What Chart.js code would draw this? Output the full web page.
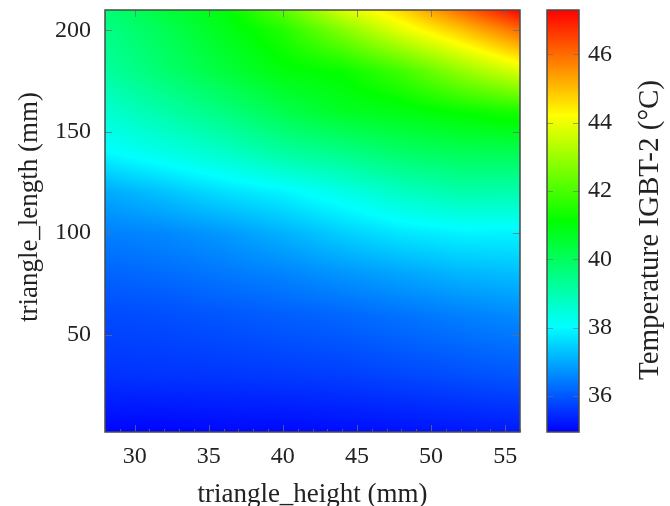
<!DOCTYPE html>
<html>
<head>
<meta charset="utf-8">
<script src="https://cdn.jsdelivr.net/npm/chart.js@4.4.1/dist/chart.umd.min.js"></script>
<style>
  body { margin: 0; background: #fff; }
  #wrap { position: relative; width: 670px; height: 506px; }
  canvas { position: absolute; top: 0; }
  #heatmap { left: 0; }
  #colorbar { left: 540px; }
</style>
</head>
<body>
<div id="wrap">
  <canvas id="heatmap" width="540" height="506"></canvas>
  <canvas id="colorbar" width="130" height="506"></canvas>
</div>
<script>
// Grid
const heights = [28, 32, 36, 40, 44, 48, 52, 56];                    // triangle_height (mm)
const lengths = [2, 30, 60, 80, 100, 120, 140, 160, 180, 200, 210];  // triangle_length (mm)
// Temperature IGBT-2 (°C), one row per length, columns follow heights
const temps = [
  [35.00, 35.00, 35.05, 35.05, 35.10, 35.15, 35.20, 35.25], // 2
  [35.55, 35.58, 35.60, 35.65, 35.70, 35.80, 35.90, 36.00], // 30
  [35.85, 35.90, 36.00, 36.10, 36.20, 36.35, 36.50, 36.65], // 60
  [36.15, 36.25, 36.40, 36.55, 36.75, 36.95, 37.15, 37.25], // 80
  [36.50, 36.60, 36.80, 37.10, 37.45, 37.75, 37.90, 37.90], // 100
  [37.00, 37.30, 37.65, 37.90, 38.30, 38.75, 39.05, 39.00], // 120
  [38.00, 38.35, 38.70, 39.20, 39.50, 39.90, 40.10, 40.15], // 140
  [38.60, 39.10, 39.60, 40.20, 40.70, 40.90, 41.20, 41.45], // 160
  [39.20, 39.80, 40.40, 41.00, 41.20, 41.90, 42.90, 43.80], // 180
  [39.50, 40.10, 40.80, 41.50, 42.70, 43.90, 44.90, 46.00], // 200
  [39.70, 40.40, 41.00, 42.20, 43.70, 44.70, 46.00, 47.30]  // 210
];
const xTicks = [30, 35, 40, 45, 50, 55];
const yTicks = [50, 100, 150, 200];
const colorTicks = [36, 38, 40, 42, 44, 46];
const colorRange = [34.95, 47.3];
const colormap = [[0, 0, 255], [0, 255, 255], [0, 255, 0], [255, 255, 0], [255, 0, 0]];

const serif = 'Liberation Serif';
const textColor = '#222';

function colorAt(v) {
  let t = (v - colorRange[0]) / (colorRange[1] - colorRange[0]);
  t = Math.min(1, Math.max(0, t)) * (colormap.length - 1);
  const i = Math.min(colormap.length - 2, Math.floor(t));
  const f = t - i;
  const a = colormap[i], b = colormap[i + 1];
  return [a[0] + (b[0] - a[0]) * f, a[1] + (b[1] - a[1]) * f, a[2] + (b[2] - a[2]) * f];
}

function findCell(arr, v) {
  let i = 0;
  while (i < arr.length - 2 && v > arr[i + 1]) i++;
  const f = Math.min(1, Math.max(0, (v - arr[i]) / (arr[i + 1] - arr[i])));
  return [i, f];
}

// bilinear shading between grid values (like shader=interp)
function tempAt(h, l) {
  const [i, fx] = findCell(heights, h);
  const [j, fy] = findCell(lengths, l);
  const a = temps[j][i], b = temps[j][i + 1], c = temps[j + 1][i], d = temps[j + 1][i + 1];
  return (a * (1 - fx) + b * fx) * (1 - fy) + (c * (1 - fx) + d * fx) * fy;
}

const points = [];
lengths.forEach((l, j) => heights.forEach((h, i) => points.push({ x: h, y: l, v: temps[j][i] })));

// stop Chart.js from reserving room for half tick labels
const noEdgePad = s => { s.paddingTop = 0; s.paddingBottom = 0; s.paddingLeft = 0; s.paddingRight = 0; };

function verticalText(ctx, text, x, y, size) {
  ctx.save();
  ctx.translate(x, y);
  ctx.rotate(-Math.PI / 2);
  ctx.fillStyle = textColor;
  ctx.font = size + 'px "' + serif + '"';
  ctx.textAlign = 'center';
  ctx.textBaseline = 'middle';
  ctx.fillText(text, 0, 0);
  ctx.restore();
}

const shading = {
  id: 'shading',
  beforeDatasetsDraw(chart) {
    const { ctx, chartArea: a, scales: { x, y } } = chart;
    const w = Math.round(a.right - a.left), h = Math.round(a.bottom - a.top);
    const off = document.createElement('canvas');
    off.width = w; off.height = h;
    const octx = off.getContext('2d');
    const img = octx.createImageData(w, h);
    const xv = [];
    for (let px = 0; px < w; px++) xv.push(x.getValueForPixel(a.left + px + 0.5));
    for (let py = 0; py < h; py++) {
      const yv = y.getValueForPixel(a.top + py + 0.5);
      for (let px = 0; px < w; px++) {
        const c = colorAt(tempAt(xv[px], yv));
        const k = (py * w + px) * 4;
        img.data[k] = c[0]; img.data[k + 1] = c[1]; img.data[k + 2] = c[2]; img.data[k + 3] = 255;
      }
    }
    octx.putImageData(img, 0, 0);
    ctx.drawImage(off, a.left, a.top);
  }
};

const frameTicks = {
  id: 'frameTicks',
  afterDatasetsDraw(chart) {
    const { ctx, chartArea: a, scales: { x, y } } = chart;
    ctx.save();
    ctx.strokeStyle = 'rgba(110,110,110,0.75)';
    ctx.lineWidth = 1;
    ctx.beginPath();
    xTicks.forEach(v => {
      const p = Math.round(x.getPixelForValue(v)) + 0.5;
      ctx.moveTo(p, a.bottom); ctx.lineTo(p, a.bottom - 7);
      ctx.moveTo(p, a.top); ctx.lineTo(p, a.top + 7);
    });
    for (let v = 28; v <= 56; v++) {
      if (v % 5 === 0) continue;
      const p = Math.round(x.getPixelForValue(v)) + 0.5;
      ctx.moveTo(p, a.bottom); ctx.lineTo(p, a.bottom - 3);
    }
    yTicks.forEach(v => {
      const p = Math.round(y.getPixelForValue(v)) + 0.5;
      ctx.moveTo(a.left, p); ctx.lineTo(a.left + 7, p);
      ctx.moveTo(a.right, p); ctx.lineTo(a.right - 7, p);
    });
    ctx.stroke();
    ctx.strokeStyle = '#4a4a4a';
    ctx.lineWidth = 1.5;
    ctx.strokeRect(a.left, a.top, a.right - a.left, a.bottom - a.top);
    ctx.restore();
    // y axis label sits a little above the axis centre in the original
    verticalText(ctx, 'triangle_length (mm)', 30, (a.top + a.bottom) / 2 - 14, 27);
  }
};

new Chart(document.getElementById('heatmap'), {
  type: 'scatter',
  data: {
    datasets: [{ label: 'Temperature IGBT-2', data: points, pointRadius: 0, pointHoverRadius: 0 }]
  },
  options: {
    responsive: false,
    animation: false,
    events: [],
    layout: { padding: { top: 10, right: 20, left: 0, bottom: 0 } },
    plugins: { legend: { display: false }, tooltip: { enabled: false } },
    scales: {
      x: {
        type: 'linear', min: 28, max: 56,
        afterBuildTicks: s => { s.ticks = xTicks.map(v => ({ value: v })); },
        afterFit: s => { s.height = 74; noEdgePad(s); },
        grid: { display: false, drawTicks: false },
        border: { display: false },
        ticks: { autoSkip: false, maxRotation: 0, padding: 10, color: textColor, font: { family: serif, size: 24 } },
        title: { display: true, text: 'triangle_height (mm)', color: textColor,
                 font: { family: serif, size: 27, lineHeight: 1 }, padding: { top: 0, bottom: -2 } }
      },
      y: {
        type: 'linear', min: 2, max: 210,
        afterBuildTicks: s => { s.ticks = yTicks.map(v => ({ value: v })); },
        afterFit: s => { s.width = 105; noEdgePad(s); },
        grid: { display: false, drawTicks: false },
        border: { display: false },
        ticks: { autoSkip: false, padding: 14, color: textColor, font: { family: serif, size: 24 } }
      }
    }
  },
  plugins: [shading, frameTicks]
});

// Colour bar
const colorbarDeco = {
  id: 'colorbarDeco',
  afterDatasetsDraw(chart) {
    const { ctx, chartArea: a, scales: { y } } = chart;
    ctx.save();
    ctx.strokeStyle = 'rgba(110,110,110,0.6)';
    ctx.lineWidth = 1;
    ctx.beginPath();
    colorTicks.forEach(v => {
      const p = Math.round(y.getPixelForValue(v)) + 0.5;
      ctx.moveTo(a.left, p); ctx.lineTo(a.left + 6, p);
      ctx.moveTo(a.right, p); ctx.lineTo(a.right - 6, p);
    });
    ctx.stroke();
    ctx.strokeStyle = '#4a4a4a';
    ctx.lineWidth = 1.5;
    ctx.strokeRect(a.left, a.top, a.right - a.left, a.bottom - a.top);
    ctx.restore();
    // axis title reads bottom to top
    verticalText(ctx, 'Temperature IGBT-2 (°C)', 110, (a.top + a.bottom) / 2 + 9, 29);
  }
};

new Chart(document.getElementById('colorbar'), {
  type: 'bar',
  data: {
    labels: ['T'],
    datasets: [{
      data: [colorRange],
      barPercentage: 1,
      categoryPercentage: 1,
      borderWidth: 0,
      backgroundColor: c => {
        const a = c.chart.chartArea;
        if (!a) return 'blue';
        const ys = c.chart.scales.y;
        const g = c.chart.ctx.createLinearGradient(0, ys.getPixelForValue(colorRange[0]), 0, ys.getPixelForValue(colorRange[1]));
        colormap.forEach((col, i) => g.addColorStop(i / (colormap.length - 1), 'rgb(' + col.join(',') + ')'));
        return g;
      }
    }]
  },
  options: {
    responsive: false,
    animation: false,
    events: [],
    layout: { padding: { left: 7, top: 10, bottom: 74, right: 0 } },
    plugins: { legend: { display: false }, tooltip: { enabled: false } },
    scales: {
      x: { display: false },
      y: {
        position: 'right', min: colorRange[0], max: colorRange[1],
        afterBuildTicks: s => { s.ticks = colorTicks.map(v => ({ value: v })); },
        afterFit: s => { s.width = 91; noEdgePad(s); },
        grid: { display: false, drawTicks: false },
        border: { display: false },
        ticks: { autoSkip: false, padding: 9, color: textColor, font: { family: serif, size: 24 } }
      }
    }
  },
  plugins: [colorbarDeco]
});
</script>
</body>
</html>
